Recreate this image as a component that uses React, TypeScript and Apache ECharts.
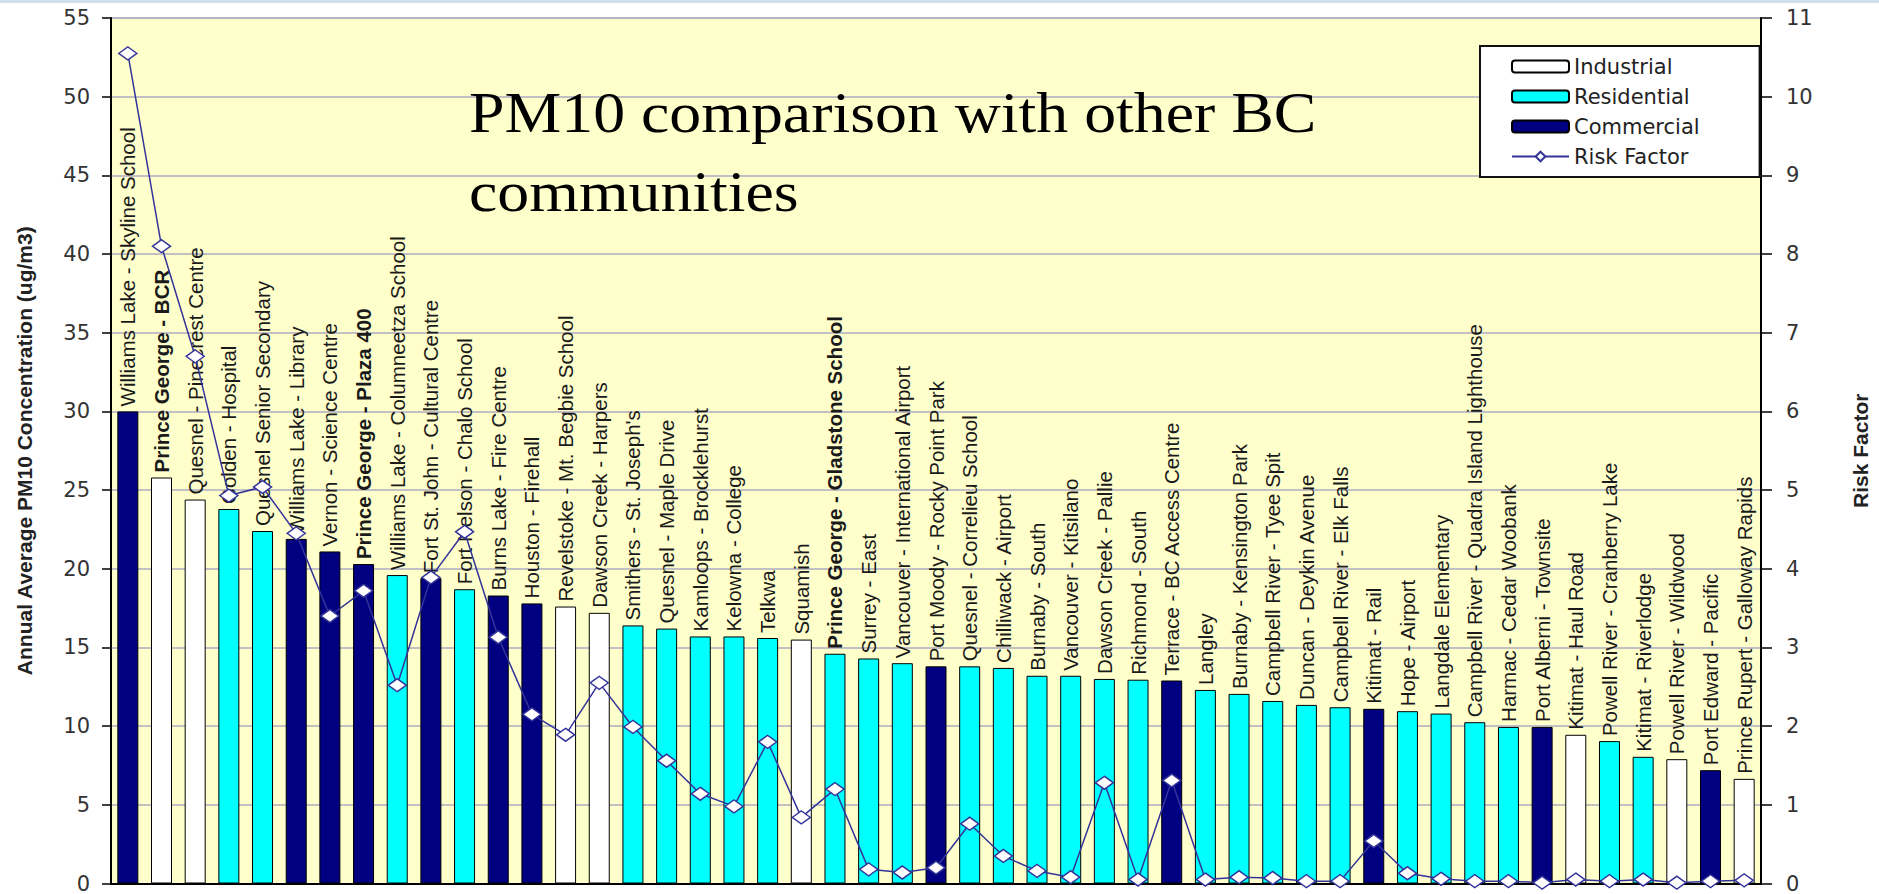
import React, { useEffect, useRef } from "react";
import * as echarts from "echarts";

const sites = [
  "Williams Lake - Skyline School",
  "Prince George - BCR",
  "Quesnel - Pinecrest Centre",
  "Golden - Hospital",
  "Quesnel Senior Secondary",
  "Williams Lake - Library",
  "Vernon - Science Centre",
  "Prince George - Plaza 400",
  "Williams Lake - Columneetza School",
  "Fort St. John - Cultural Centre",
  "Fort Nelson - Chalo School",
  "Burns Lake - Fire Centre",
  "Houston - Firehall",
  "Revelstoke - Mt. Begbie School",
  "Dawson Creek - Harpers",
  "Smithers - St. Joseph's",
  "Quesnel - Maple Drive",
  "Kamloops - Brocklehurst",
  "Kelowna - College",
  "Telkwa",
  "Squamish",
  "Prince George - Gladstone School",
  "Surrey - East",
  "Vancouver - International Airport",
  "Port Moody - Rocky Point Park",
  "Quesnel - Correlieu School",
  "Chilliwack - Airport",
  "Burnaby - South",
  "Vancouver - Kitsilano",
  "Dawson Creek - Pallie",
  "Richmond - South",
  "Terrace - BC Access Centre",
  "Langley",
  "Burnaby - Kensington Park",
  "Campbell River - Tyee Spit",
  "Duncan - Deykin Avenue",
  "Campbell River - Elk Falls",
  "Kitimat - Rail",
  "Hope - Airport",
  "Langdale Elementary",
  "Campbell River - Quadra Island Lighthouse",
  "Harmac - Cedar Woobank",
  "Port Alberni - Townsite",
  "Kitimat - Haul Road",
  "Powell River - Cranberry Lake",
  "Kitimat - Riverlodge",
  "Powell River - Wildwood",
  "Port Edward - Pacific",
  "Prince Rupert - Galloway Rapids",
];

// I = Industrial, R = Residential, C = Commercial
const siteTypes = [
  "C", "I", "I", "R", "R", "C", "C", "C", "R", "C",
  "R", "C", "C", "I", "I", "R", "R", "R", "R", "R",
  "I", "R", "R", "R", "C", "R", "R", "R", "R", "R",
  "R", "C", "R", "R", "R", "R", "R", "C", "R", "R",
  "R", "R", "C", "I", "R", "R", "I", "C", "I",
];

const pm10 = [
  30.0, 25.8, 24.4, 23.8, 22.4, 21.9, 21.1, 20.3, 19.6, 19.4,
  18.7, 18.3, 17.8, 17.6, 17.2, 16.4, 16.2, 15.7, 15.7, 15.6,
  15.5, 14.6, 14.3, 14.0, 13.8, 13.8, 13.7, 13.2, 13.2, 13.0,
  12.95, 12.9, 12.3, 12.05, 11.6, 11.35, 11.2, 11.1, 10.95, 10.8,
  10.25, 9.95, 9.95, 9.45, 9.05, 8.05, 7.9, 7.2, 6.65,
];

const riskFactor = [
  10.55, 8.1, 6.7, 4.93, 5.04, 4.45, 3.4, 3.72, 2.52, 3.89,
  4.47, 3.13, 2.15, 1.89, 2.55, 1.99, 1.56, 1.14, 0.98, 1.8,
  0.84, 1.2, 0.18, 0.14, 0.2, 0.76, 0.35, 0.16, 0.08, 1.28,
  0.05, 1.31, 0.05, 0.08, 0.07, 0.03, 0.03, 0.54, 0.13, 0.06,
  0.03, 0.03, 0.01, 0.05, 0.03, 0.05, 0.01, 0.03, 0.04,
];

const boldSites = [
  "Prince George - BCR",
  "Prince George - Plaza 400",
  "Prince George - Gladstone School",
];

const typeSeries = [
  { code: "I", name: "Industrial", color: "#FFFFFF" },
  { code: "R", name: "Residential", color: "#00FFFF" },
  { code: "C", name: "Commercial", color: "#000080" },
];

const leftTitle = "Annual Average PM10 Concentration (ug/m3)";
const rightTitle = "Risk Factor";
const titleLines = ["PM10 comparison with other BC", "communities"];

export default function App() {
  const ref = useRef<HTMLDivElement>(null);

  useEffect(() => {
    if (!ref.current) return;
    const chart = echarts.init(ref.current, undefined, { renderer: "svg" });

    const barSeries = typeSeries.map((t) => ({
      type: "bar",
      name: t.name,
      barWidth: 21,
      barGap: "-100%",
      z: 2,
      itemStyle: { color: t.color, borderColor: "#000", borderWidth: 1 },
      label: {
        show: true,
        position: "top",
        rotate: 90,
        align: "left",
        verticalAlign: "middle",
        distance: 5,
        formatter: "{b}",
        fontFamily: "Liberation Sans, Arial, sans-serif",
        fontSize: 20.5,
        color: "#1a1a1a",
      },
      data: pm10.map((v, i) => {
        if (siteTypes[i] !== t.code) return null;
        if (boldSites.includes(sites[i])) {
          return { value: v, label: { fontWeight: "bold" } };
        }
        return v;
      }),
    }));

    const option = {
      animation: false,
      backgroundColor: "#FFFFFF",
      grid: {
        left: 111,
        right: 82,
        top: 18,
        bottom: 8,
        show: true,
        backgroundColor: "#FFFFCC",
        borderColor: "#8a8a8a",
        borderWidth: 1,
      },
      legend: {
        orient: "vertical",
        left: 1480,
        top: 46,
        backgroundColor: "#FFFFFF",
        borderColor: "#111",
        borderWidth: 2,
        borderRadius: 0,
        padding: [10, 60, 10, 31],
        itemWidth: 57,
        itemHeight: 12,
        itemGap: 9,
        textStyle: {
          fontFamily: "DejaVu Sans, sans-serif",
          fontSize: 21,
          color: "#222",
        },
        data: ["Industrial", "Residential", "Commercial", "Risk Factor"],
      },
      xAxis: {
        type: "category",
        data: sites,
        axisLabel: { show: false },
        axisTick: { show: false },
        axisLine: { show: true, lineStyle: { color: "#000", width: 2 } },
        splitLine: { show: false },
      },
      yAxis: [
        {
          type: "value",
          position: "left",
          min: 0,
          max: 55,
          interval: 5,
          name: leftTitle,
          nameLocation: "middle",
          nameGap: 76,
          nameRotate: 90,
          nameTextStyle: {
            fontFamily: "Liberation Sans, Arial, sans-serif",
            fontSize: 21,
            fontWeight: "bold",
            color: "#222",
          },
          axisLine: { show: true, lineStyle: { color: "#000", width: 2 } },
          axisTick: { show: true, length: 9, lineStyle: { color: "#000", width: 1.5 } },
          axisLabel: {
            margin: 21,
            color: "#333",
            fontSize: 21,
            fontFamily: "DejaVu Sans, sans-serif",
          },
          splitLine: { show: true, lineStyle: { color: "#ADADC0", width: 1.5 } },
        },
        {
          type: "value",
          position: "right",
          min: 0,
          max: 11,
          interval: 1,
          name: rightTitle,
          nameLocation: "middle",
          nameGap: 89,
          nameRotate: 90,
          nameTextStyle: {
            fontFamily: "Liberation Sans, Arial, sans-serif",
            fontSize: 21,
            fontWeight: "bold",
            color: "#222",
          },
          axisLine: { show: true, lineStyle: { color: "#000", width: 2 } },
          axisTick: { show: true, length: 11, lineStyle: { color: "#000", width: 1.5 } },
          axisLabel: {
            margin: 25,
            color: "#333",
            fontSize: 21,
            fontFamily: "DejaVu Sans, sans-serif",
          },
          splitLine: { show: false },
        },
      ],
      graphic: [
        {
          type: "rect",
          silent: true,
          shape: { x: 0, y: 0, width: 1879, height: 3 },
          style: { fill: "#cfe0ee" },
        },
        ...titleLines.map((line, i) => ({
          type: "text",
          x: 469,
          y: 113 + i * 79,
          scaleX: 1.12,
          z: 10,
          style: {
            text: line,
            fontFamily: "Liberation Serif, Times New Roman, serif",
            fontSize: 57,
            fill: "#000",
            verticalAlign: "middle",
            align: "left",
          },
        })),
      ],
      series: [
        ...barSeries,
        {
          type: "line",
          name: "Risk Factor",
          yAxisIndex: 1,
          z: 5,
          data: riskFactor,
          symbol: "diamond",
          symbolSize: [18, 13],
          lineStyle: { color: "#333399", width: 1.5 },
          itemStyle: { color: "#FFFFFF", borderColor: "#333399", borderWidth: 1.5 },
        },
      ],
    };

    chart.setOption(option as any);
    return () => chart.dispose();
  }, []);

  return (
    <div
      ref={ref}
      style={{ position: "fixed", left: 0, top: 0, width: 1879, height: 894 }}
    />
  );
}
